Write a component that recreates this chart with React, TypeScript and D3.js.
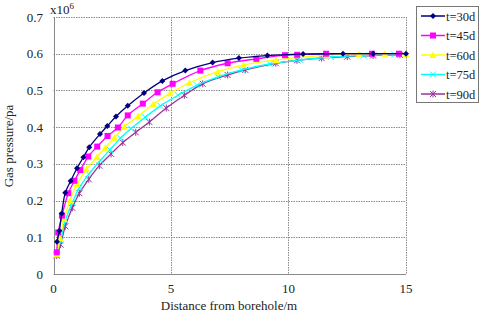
import React, { useRef, useEffect } from "react";
import * as d3 from "d3";

// distance from borehole (m) and gas pressure (x10^6 pa) per series
const x30 = [0.15, 0.25, 0.35, 0.5, 0.73, 1.0, 1.27, 1.52, 1.98, 2.29, 2.66, 3.16, 3.85, 4.63, 5.61, 6.77, 7.89, 9.1, 10.62, 12.32, 13.6, 15];
const y30 = [0.088, 0.118, 0.165, 0.221, 0.253, 0.288, 0.318, 0.345, 0.381, 0.403, 0.429, 0.458, 0.493, 0.526, 0.554, 0.576, 0.588, 0.595, 0.599, 0.6, 0.6, 0.6];

const x45 = [0.14, 0.2, 0.36, 0.63, 0.89, 1.14, 1.48, 1.86, 2.3, 2.74, 3.16, 3.8, 4.43, 5.07, 6.25, 7.41, 8.63, 9.85, 10.37, 11.6, 13.55, 14.7];
const y45 = [0.059, 0.113, 0.159, 0.22, 0.254, 0.283, 0.32, 0.347, 0.376, 0.399, 0.432, 0.464, 0.495, 0.518, 0.554, 0.574, 0.586, 0.596, 0.597, 0.6, 0.6, 0.6];

const x60 = [0.14, 0.28, 0.45, 0.7, 1.0, 1.4, 1.84, 2.2, 2.59, 3.01, 3.61, 4.25, 4.96, 5.78, 6.99, 8.08, 9.47, 11.64, 13.0, 14.1, 15];
const y60 = [0.054, 0.097, 0.15, 0.2, 0.245, 0.285, 0.318, 0.344, 0.371, 0.401, 0.43, 0.463, 0.492, 0.521, 0.551, 0.569, 0.583, 0.596, 0.599, 0.6, 0.599];

const x75 = [0.14, 0.3, 0.5, 0.8, 1.1, 1.5, 2.0, 2.4, 2.85, 3.3, 3.9, 4.55, 5.3, 6.1, 7.0, 8.0, 9.2, 10.5, 11.8, 13.2, 14.5];
const y75 = [0.052, 0.09, 0.145, 0.195, 0.235, 0.272, 0.31, 0.338, 0.37, 0.396, 0.427, 0.458, 0.487, 0.514, 0.537, 0.556, 0.572, 0.583, 0.591, 0.595, 0.598];

const x90 = [0.14, 0.3, 0.5, 0.8, 1.1, 1.5, 1.95, 2.45, 2.95, 3.5, 4.08, 4.8, 5.57, 6.35, 7.41, 8.16, 9.46, 10.36, 11.41, 12.5, 13.6, 14.74];
const y90 = [0.05, 0.08, 0.13, 0.18, 0.22, 0.258, 0.295, 0.327, 0.358, 0.386, 0.414, 0.452, 0.487, 0.518, 0.542, 0.556, 0.574, 0.582, 0.588, 0.592, 0.595, 0.597];

const seriesNames = ["t=30d", "t=45d", "t=60d", "t=75d", "t=90d"];
const xTicks = [0, 5, 10, 15];
const yTicks = [0, 0.1, 0.2, 0.3, 0.4, 0.5, 0.6, 0.7];

const colors = ["#000080", "#ff00ff", "#ffff00", "#00ffff", "#993399"];
const FONT = "'Liberation Serif', 'Times New Roman', serif";

const drawMarker = (g, kind, color) => {
  if (kind === 0) {
    g.append("path").attr("d", "M0,-3L3,0L0,3L-3,0Z").attr("fill", color);
  } else if (kind === 1) {
    g.append("rect").attr("x", -3).attr("y", -3).attr("width", 6).attr("height", 6).attr("fill", color);
  } else if (kind === 2) {
    g.append("path").attr("d", "M0,-3.5L3.5,3L-3.5,3Z").attr("fill", color);
  } else if (kind === 3) {
    g.append("path").attr("d", "M-3,-3L3,3M-3,3L3,-3").attr("stroke", color).attr("stroke-width", 1);
  } else {
    g.append("path").attr("d", "M-3,-3L3,3M-3,3L3,-3M0,-3.5L0,3.5").attr("stroke", color).attr("stroke-width", 1);
  }
};

const App = () => {
  const svgRef = useRef(null);
  const width = 480;
  const height = 317;

  useEffect(() => {
    const svg = d3.select(svgRef.current);
    svg.selectAll("*").remove();

    const x = d3.scaleLinear().domain([0, 15]).range([53.5, 406]);
    const y = d3.scaleLinear().domain([0, 0.7]).range([274, 17]);

    // grid
    const grid = svg.append("g").attr("stroke", "#8a8a8a").attr("stroke-dasharray", "1.5,1").attr("stroke-width", 1);
    grid.selectAll("line.h")
      .data(yTicks.slice(1))
      .join("line")
      .attr("x1", x(0)).attr("x2", x(15))
      .attr("y1", (d) => Math.round(y(d)) + 0.5).attr("y2", (d) => Math.round(y(d)) + 0.5);
    grid.selectAll("line.v")
      .data(xTicks.slice(1))
      .join("line")
      .attr("y1", y(0.7)).attr("y2", y(0))
      .attr("x1", (d) => Math.round(x(d)) + 0.5).attr("x2", (d) => Math.round(x(d)) + 0.5);

    // axes lines
    svg.append("line").attr("x1", Math.round(x(0)) + 0.5).attr("x2", Math.round(x(0)) + 0.5)
      .attr("y1", y(0.7)).attr("y2", y(0)).attr("stroke", "#8a8a8a");
    svg.append("line").attr("x1", x(0)).attr("x2", x(15))
      .attr("y1", Math.round(y(0)) + 0.5).attr("y2", Math.round(y(0)) + 0.5).attr("stroke", "#8a8a8a");

    // tick labels
    svg.append("g").selectAll("text")
      .data(yTicks)
      .join("text")
      .attr("x", 43).attr("y", (d) => y(d) + 4.5)
      .attr("text-anchor", "end")
      .attr("font-family", FONT).attr("font-size", 13).attr("fill", "#222")
      .text((d) => (d === 0 ? "0" : d3.format(".1f")(d)));
    svg.append("g").selectAll("text")
      .data(xTicks)
      .join("text")
      .attr("x", (d) => x(d)).attr("y", 293)
      .attr("text-anchor", "middle")
      .attr("font-family", FONT).attr("font-size", 13).attr("fill", "#222")
      .text((d) => d);

    const mult = svg.append("text").attr("x", 50).attr("y", 14)
      .attr("font-family", FONT).attr("font-size", 13).attr("fill", "#222");
    mult.append("tspan").text("x10");
    mult.append("tspan").attr("dy", -5).attr("font-size", 9).text("6");

    svg.append("text")
      .attr("transform", "translate(13,146) rotate(-90)")
      .attr("text-anchor", "middle")
      .attr("font-family", FONT).attr("font-size", 13).attr("fill", "#222")
      .text("Gas pressure/pa");
    svg.append("text")
      .attr("x", 229).attr("y", 310)
      .attr("text-anchor", "middle")
      .attr("font-family", FONT).attr("font-size", 13).attr("fill", "#222")
      .text("Distance from borehole/m");

    // series
    const xs = [x30, x45, x60, x75, x90];
    const ys = [y30, y45, y60, y75, y90];
    const line = d3.line().x((d) => x(d[0])).y((d) => y(d[1])).curve(d3.curveCatmullRom.alpha(0.5));

    // draw back to front so 30d ends on top
    for (let s = 4; s >= 0; s--) {
      const pts = xs[s].map((v, i) => [v, ys[s][i]]);
      svg.append("path").datum(pts)
        .attr("fill", "none").attr("stroke", colors[s]).attr("stroke-width", 1.3)
        .attr("d", line);
      pts.forEach((p) => {
        const g = svg.append("g").attr("transform", `translate(${x(p[0])},${y(p[1])})`);
        drawMarker(g, s, colors[s]);
      });
    }

    // legend
    svg.append("rect").attr("x", 416.5).attr("y", 6.5).attr("width", 62).attr("height", 96)
      .attr("fill", "#fff").attr("stroke", "#777").attr("stroke-width", 1);
    seriesNames.forEach((name, i) => {
      const ly = 16 + i * 19.5;
      svg.append("line").attr("x1", 421).attr("x2", 445).attr("y1", ly).attr("y2", ly)
        .attr("stroke", colors[i]).attr("stroke-width", 1.5);
      const g = svg.append("g").attr("transform", `translate(433,${ly})`);
      drawMarker(g, i, colors[i]);
      svg.append("text").attr("x", 446).attr("y", ly + 4.5)
        .attr("font-family", FONT).attr("font-size", 12.5).attr("fill", "#222")
        .text(name);
    });
  }, []);

  return (
    <svg
      ref={svgRef}
      width={width}
      height={height}
      style={{ position: "absolute", left: 0, top: 0, background: "#fff" }}
    ></svg>
  );
};

export default App;
